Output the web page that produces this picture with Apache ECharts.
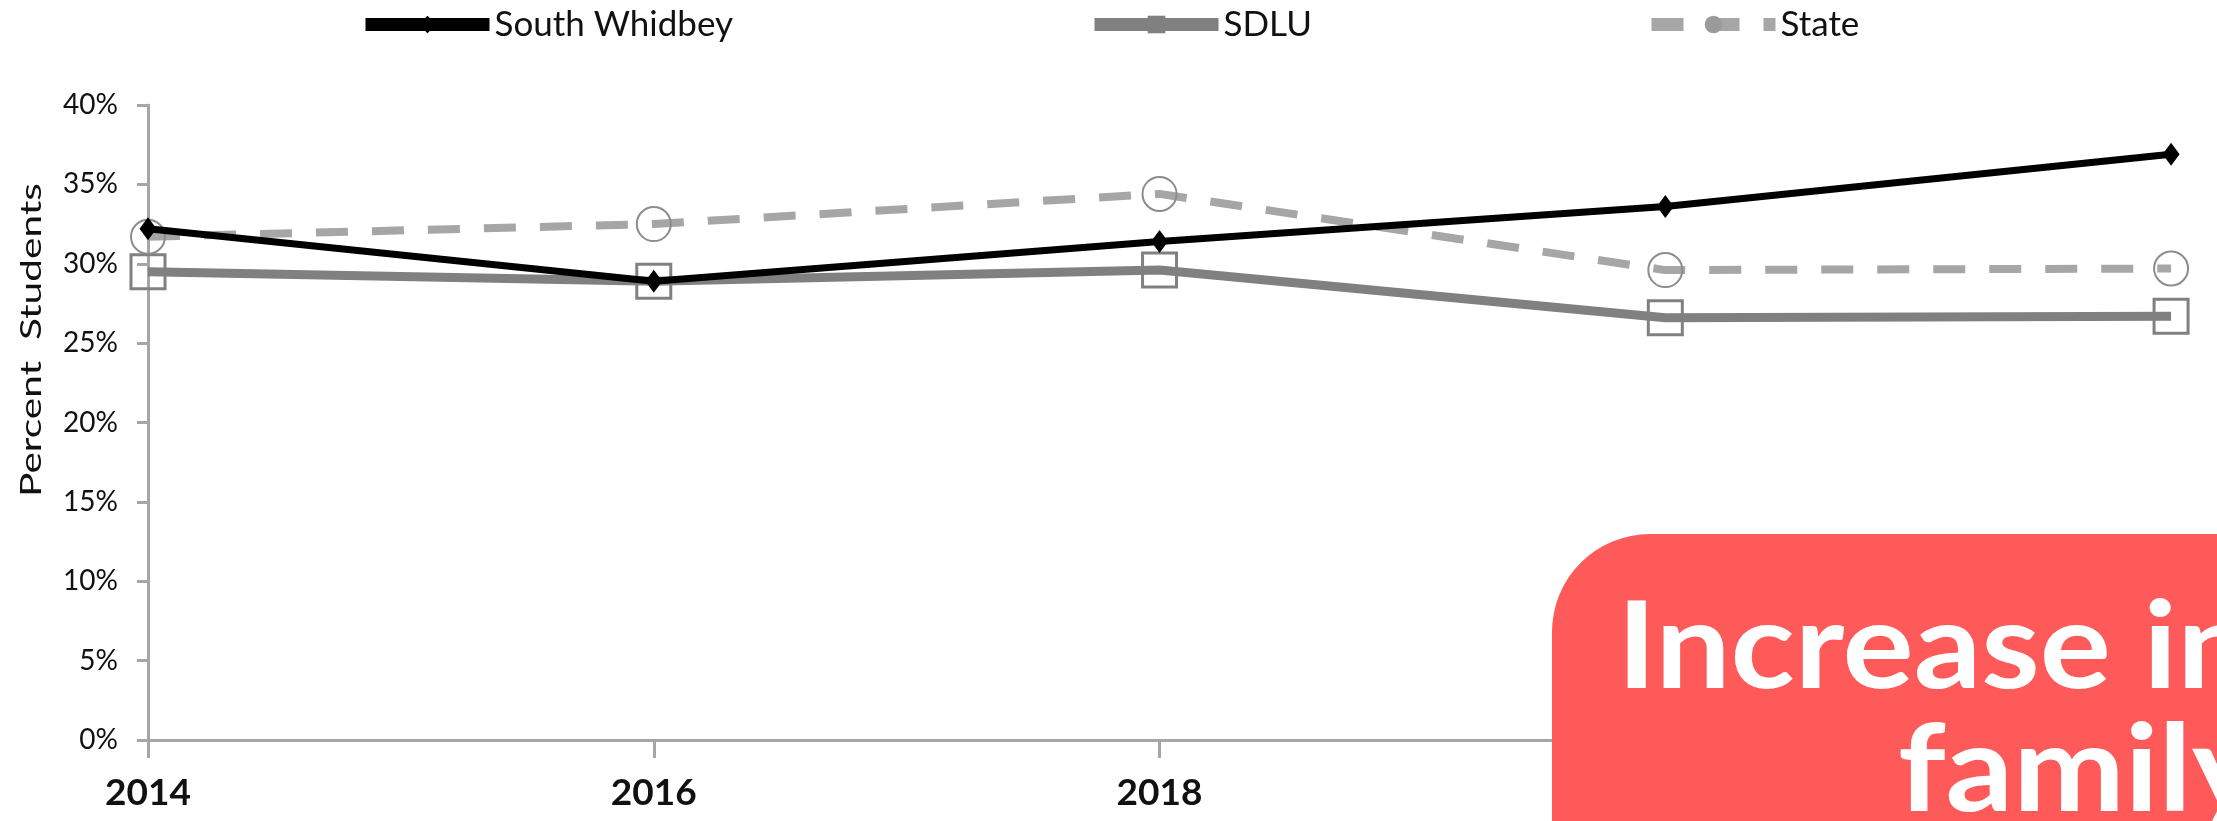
<!DOCTYPE html>
<html>
<head>
<meta charset="utf-8">
<script src="https://cdn.jsdelivr.net/npm/echarts@6/dist/echarts.min.js"></script>
<style>
html,body{margin:0;padding:0;background:#fff;}
#chart{width:2217px;height:821px;}
</style>
</head>
<body>
<div id="chart"></div>
<script>
var years = ['2014', '2016', '2018', '2020', '2022'];
var southWhidbey = [32.2, 28.9, 31.4, 33.6, 36.9];
var sdlu = [29.5, 28.9, 29.6, 26.6, 26.7];
var state = [31.7, 32.5, 34.4, 29.6, 29.7];
var seriesNames = ['South Whidbey', 'SDLU', 'State'];
var yAxisTitle = 'Percent  Students';
var overlayLines = ['Increase in', 'family'];

var FONT = 'Lato, "Liberation Sans", sans-serif';
var axisGray = '#A6A6A6';

var chart = echarts.init(document.getElementById('chart'), null, {renderer: 'canvas'});

function legendFor(name, left, iconColor) {
  return {
    data: [name],
    left: left,
    top: 2,
    itemWidth: 124,
    itemHeight: 22,
    itemGap: 10,
    lineStyle: {width: 13},
    itemStyle: {color: iconColor, borderWidth: 0},
    textStyle: {fontFamily: FONT, fontSize: 35, color: '#111'}
  };
}

var option = {
  backgroundColor: '#ffffff',
  animation: false,
  legend: [
    legendFor(seriesNames[0], 354, '#000000'),
    legendFor(seriesNames[1], 1083, '#808080'),
    legendFor(seriesNames[2], 1640, '#9A9A9A')
  ],
  grid: {left: 148, right: 35, top: 105, bottom: 81, containLabel: false},
  xAxis: {
    type: 'category',
    data: years,
    boundaryGap: false,
    axisLine: {show: true, lineStyle: {color: axisGray, width: 3}},
    axisTick: {show: true, length: 18, lineStyle: {color: axisGray, width: 3}},
    axisLabel: {margin: 35, fontFamily: FONT, fontSize: 37, fontWeight: 'bold', color: '#111'},
    splitLine: {show: false}
  },
  yAxis: {
    type: 'value',
    min: 0,
    max: 40,
    interval: 5,
    axisLine: {show: true, lineStyle: {color: axisGray, width: 3}},
    axisTick: {show: true, length: 11, lineStyle: {color: axisGray, width: 3}},
    axisLabel: {margin: 30, formatter: '{value}%', fontFamily: FONT, fontSize: 28, color: '#111'},
    splitLine: {show: false}
  },
  series: [
    {
      name: seriesNames[1],
      type: 'line',
      data: sdlu,
      z: 2,
      symbol: 'rect',
      symbolSize: 34,
      lineStyle: {color: '#808080', width: 9},
      itemStyle: {color: 'rgba(255,255,255,0)', borderColor: '#808080', borderWidth: 3}
    },
    {
      name: seriesNames[2],
      type: 'line',
      data: state,
      z: 3,
      symbol: 'circle',
      symbolSize: 34,
      lineStyle: {color: '#A6A6A6', width: 8, type: [32, 24]},
      itemStyle: {color: 'rgba(255,255,255,0)', borderColor: '#8C8C8C', borderWidth: 2}
    },
    {
      name: seriesNames[0],
      type: 'line',
      data: southWhidbey,
      z: 4,
      symbol: 'diamond',
      symbolSize: [17, 23],
      lineStyle: {color: '#000000', width: 7},
      itemStyle: {color: '#000000'}
    }
  ],
  graphic: [
    {
      type: 'text',
      x: 32,
      y: 340,
      rotation: Math.PI / 2,
      scaleX: 1.45,
      style: {
        text: yAxisTitle,
        fontFamily: FONT,
        fontSize: 28,
        fill: '#111',
        align: 'center',
        verticalAlign: 'middle'
      }
    },
    {
      type: 'rect',
      z: 100,
      shape: {x: 1552, y: 534, width: 800, height: 400, r: [98, 0, 0, 0]},
      style: {fill: '#FF5A5A'}
    },
    {
      type: 'text',
      z: 101,
      x: 1617,
      y: 589,
      scaleX: 1.11,
      style: {
        text: overlayLines[0],
        fontFamily: FONT,
        fontSize: 120,
        fontWeight: 'bold',
        fill: '#ffffff',
        align: 'left',
        verticalAlign: 'top'
      }
    },
    {
      type: 'text',
      z: 101,
      x: 1898,
      y: 712,
      scaleX: 1.11,
      style: {
        text: overlayLines[1],
        fontFamily: FONT,
        fontSize: 120,
        fontWeight: 'bold',
        fill: '#ffffff',
        align: 'left',
        verticalAlign: 'top'
      }
    }
  ]
};
chart.setOption(option);
</script>
</body>
</html>
